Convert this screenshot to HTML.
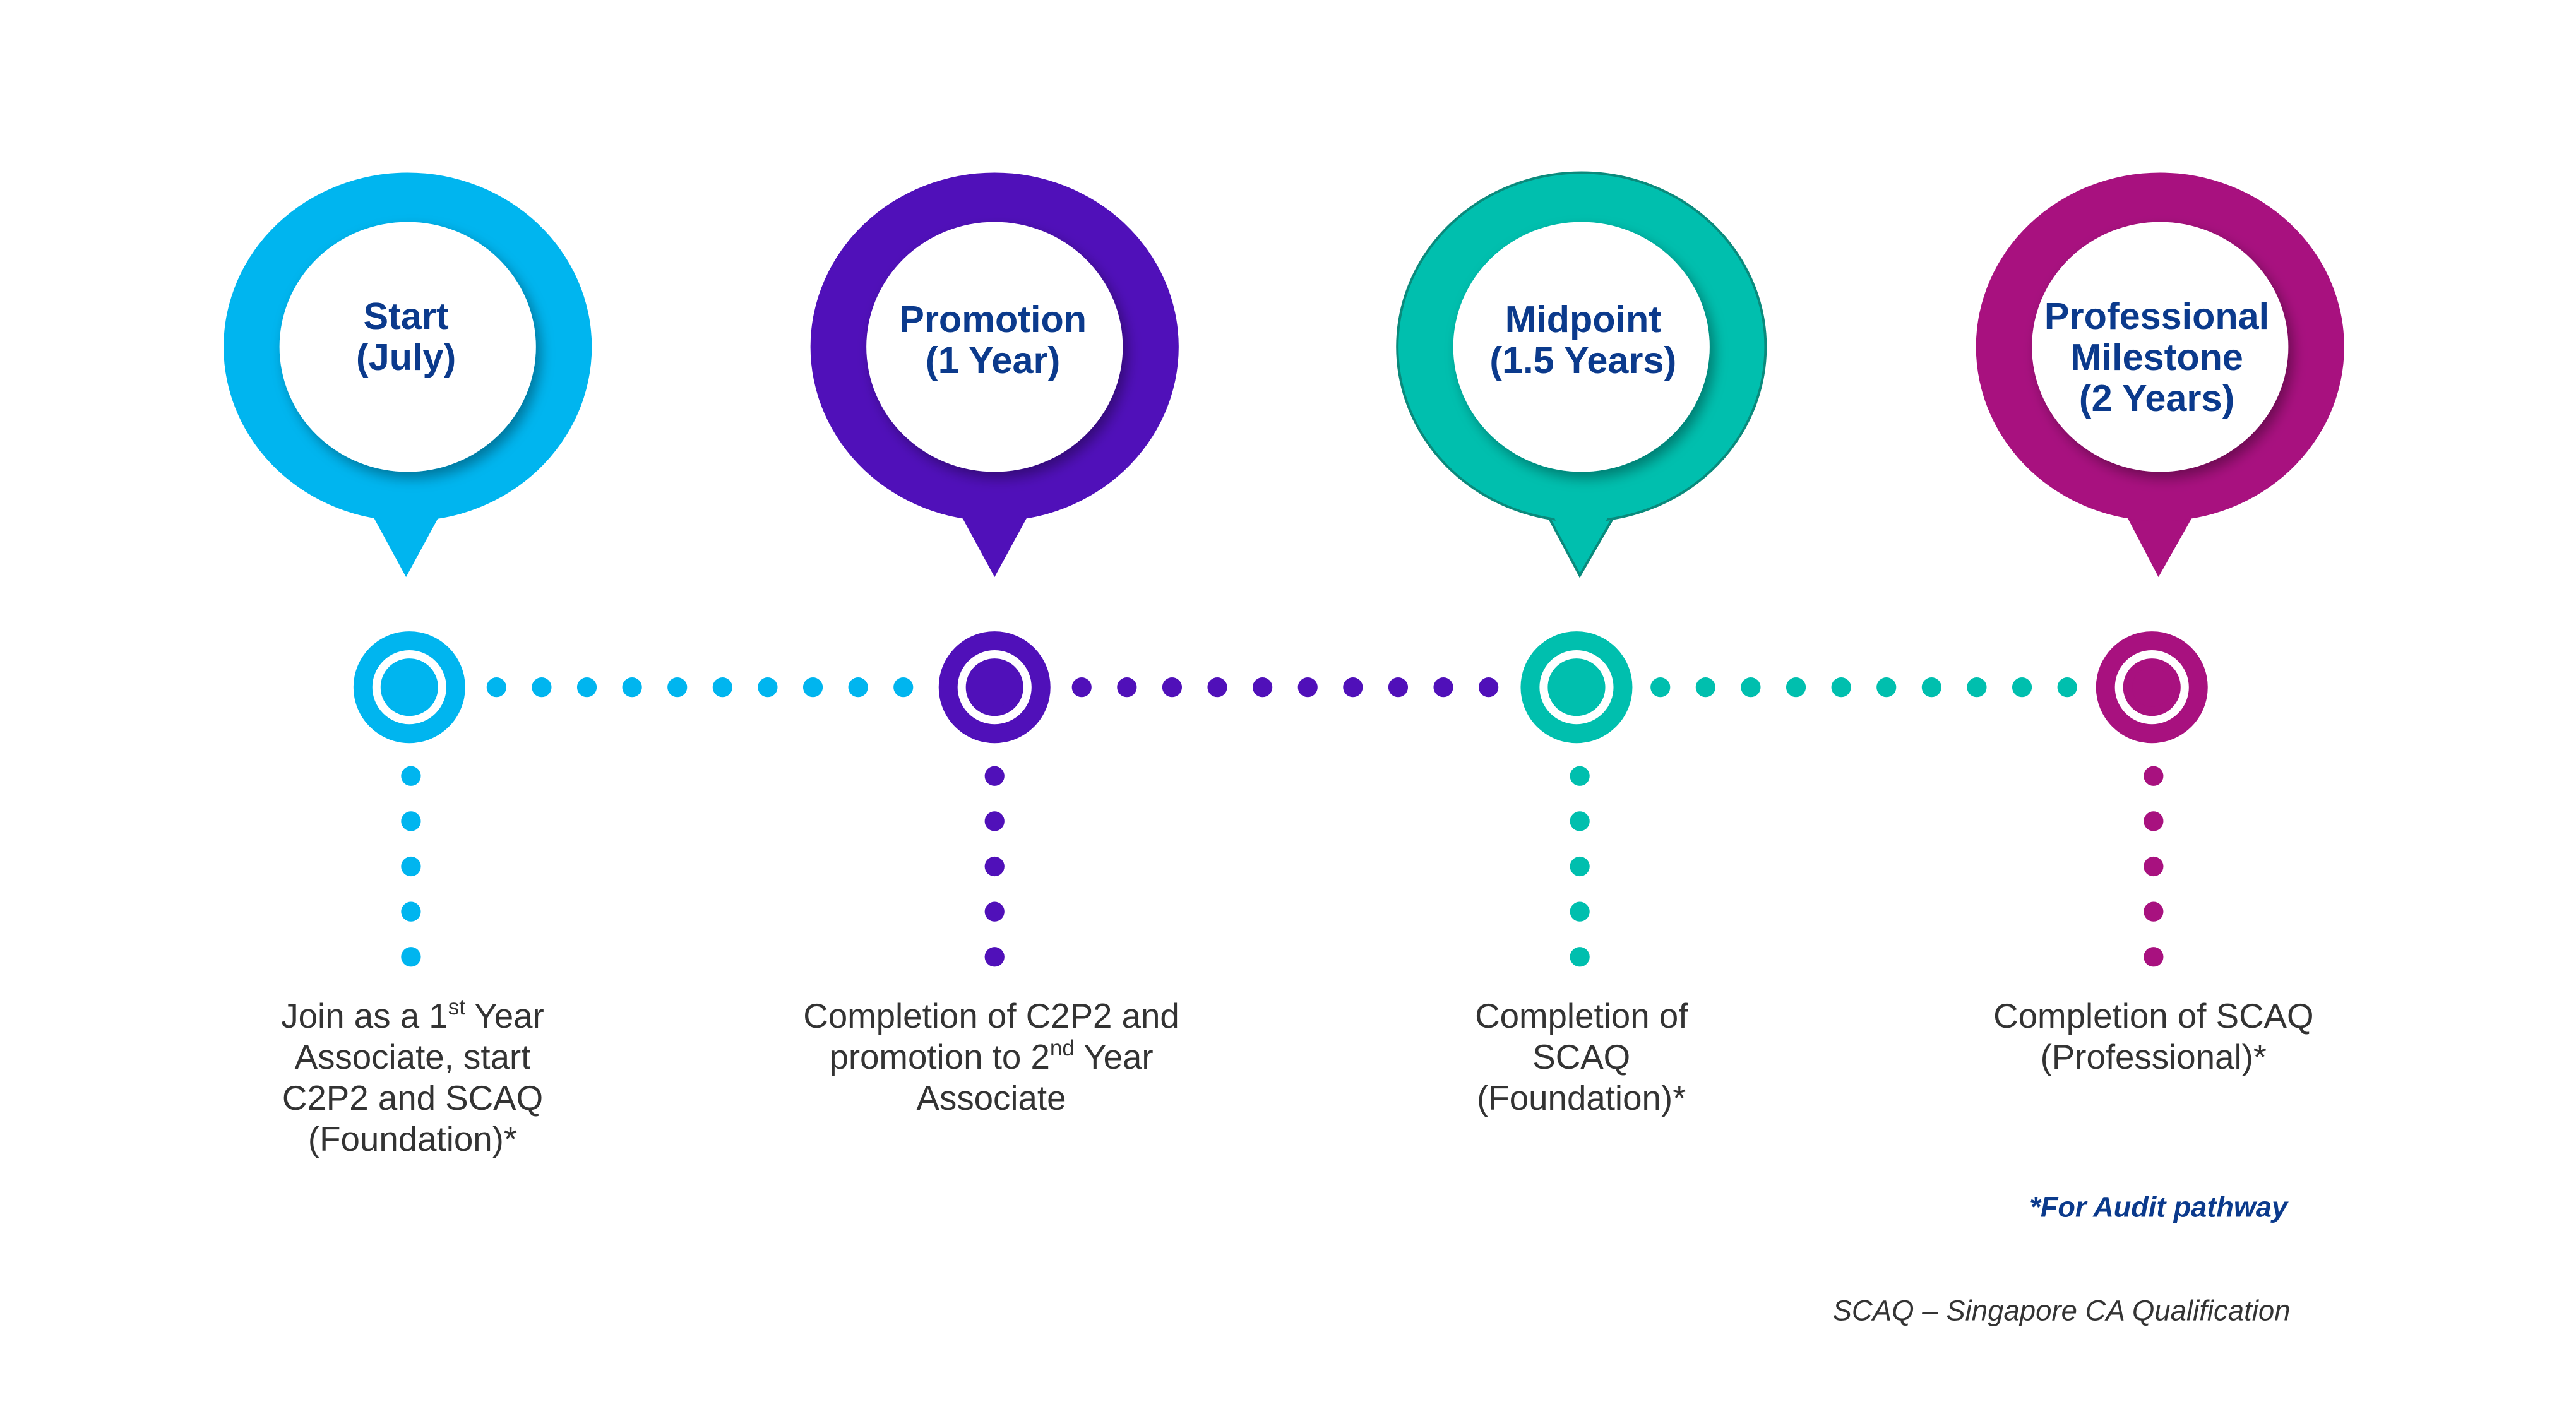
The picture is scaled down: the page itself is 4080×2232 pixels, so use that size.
<!DOCTYPE html>
<html><head><meta charset="utf-8"><style>
html,body{margin:0;padding:0;background:#fff;}
svg{display:block;}
text{font-family:"Liberation Sans",Arial,sans-serif;}
</style></head><body>
<svg width="4080" height="2232" viewBox="0 0 1567 857" preserveAspectRatio="none" xmlns="http://www.w3.org/2000/svg">
<defs>
<filter id="sh" x="-30%" y="-30%" width="160%" height="160%">
<feDropShadow dx="3" dy="4" stdDeviation="4" flood-color="#000" flood-opacity="0.35"/>
</filter>
</defs>
<rect width="1567" height="857" fill="#fff"/>

<g>
<polygon points="222,305 272,305 247,351" fill="#00b5ef"/>
<ellipse cx="248" cy="211" rx="112" ry="106" fill="#00b5ef"/>
<ellipse cx="248" cy="211" rx="78" ry="76" fill="#fff" filter="url(#sh)"/>
<text x="247" y="200" text-anchor="middle" font-size="22.8" font-weight="bold" fill="#0b3a8c">Start</text>
<text x="247" y="225" text-anchor="middle" font-size="22.8" font-weight="bold" fill="#0b3a8c">(July)</text>
</g>
<g>
<polygon points="580,305 630,305 605,351" fill="#5010b9"/>
<ellipse cx="605" cy="211" rx="112" ry="106" fill="#5010b9"/>
<ellipse cx="605" cy="211" rx="78" ry="76" fill="#fff" filter="url(#sh)"/>
<text x="604" y="202" text-anchor="middle" font-size="22.8" font-weight="bold" fill="#0b3a8c">Promotion</text>
<text x="604" y="227" text-anchor="middle" font-size="22.8" font-weight="bold" fill="#0b3a8c">(1 Year)</text>
</g>
<g>
<polygon points="937,305 987,305 961,350" fill="#00bfae" stroke="#0a8a7c" stroke-width="1.5"/>
<ellipse cx="962" cy="211" rx="112" ry="106" fill="#00bfae" stroke="#0a8a7c" stroke-width="1.5"/>
<polygon points="938,300 986,300 961,346" fill="#00bfae"/>
<ellipse cx="962" cy="211" rx="78" ry="76" fill="#fff" filter="url(#sh)"/>
<text x="963" y="202" text-anchor="middle" font-size="22.8" font-weight="bold" fill="#0b3a8c">Midpoint</text>
<text x="963" y="227" text-anchor="middle" font-size="22.8" font-weight="bold" fill="#0b3a8c">(1.5 Years)</text>
</g>
<g>
<polygon points="1289,305 1339,305 1313,351" fill="#a8117f"/>
<ellipse cx="1314" cy="211" rx="112" ry="106" fill="#a8117f"/>
<ellipse cx="1314" cy="211" rx="78" ry="76" fill="#fff" filter="url(#sh)"/>
<text x="1312" y="200" text-anchor="middle" font-size="22.8" font-weight="bold" fill="#0b3a8c">Professional</text>
<text x="1312" y="225" text-anchor="middle" font-size="22.8" font-weight="bold" fill="#0b3a8c">Milestone</text>
<text x="1312" y="250" text-anchor="middle" font-size="22.8" font-weight="bold" fill="#0b3a8c">(2 Years)</text>
</g>

<g>
<circle cx="249" cy="418" r="34" fill="#00b5ef"/><circle cx="249" cy="418" r="20" fill="none" stroke="#fff" stroke-width="5"/><circle cx="249" cy="418" r="12" fill="#00b5ef"/>
<circle cx="605" cy="418" r="34" fill="#5010b9"/><circle cx="605" cy="418" r="20" fill="none" stroke="#fff" stroke-width="5"/><circle cx="605" cy="418" r="12" fill="#5010b9"/>
<circle cx="959" cy="418" r="34" fill="#00bfae"/><circle cx="959" cy="418" r="20" fill="none" stroke="#fff" stroke-width="5"/><circle cx="959" cy="418" r="12" fill="#00bfae"/>
<circle cx="1309" cy="418" r="34" fill="#a8117f"/><circle cx="1309" cy="418" r="20" fill="none" stroke="#fff" stroke-width="5"/><circle cx="1309" cy="418" r="12" fill="#a8117f"/>
</g>

<g fill="#00b5ef">
<circle cx="302" cy="418" r="6"/><circle cx="329.5" cy="418" r="6"/><circle cx="357" cy="418" r="6"/><circle cx="384.5" cy="418" r="6"/><circle cx="412" cy="418" r="6"/><circle cx="439.5" cy="418" r="6"/><circle cx="467" cy="418" r="6"/><circle cx="494.5" cy="418" r="6"/><circle cx="522" cy="418" r="6"/><circle cx="549.5" cy="418" r="6"/>
</g>
<g fill="#5010b9">
<circle cx="658" cy="418" r="6"/><circle cx="685.5" cy="418" r="6"/><circle cx="713" cy="418" r="6"/><circle cx="740.5" cy="418" r="6"/><circle cx="768" cy="418" r="6"/><circle cx="795.5" cy="418" r="6"/><circle cx="823" cy="418" r="6"/><circle cx="850.5" cy="418" r="6"/><circle cx="878" cy="418" r="6"/><circle cx="905.5" cy="418" r="6"/>
</g>
<g fill="#00bfae">
<circle cx="1010" cy="418" r="6"/><circle cx="1037.5" cy="418" r="6"/><circle cx="1065" cy="418" r="6"/><circle cx="1092.5" cy="418" r="6"/><circle cx="1120" cy="418" r="6"/><circle cx="1147.5" cy="418" r="6"/><circle cx="1175" cy="418" r="6"/><circle cx="1202.5" cy="418" r="6"/><circle cx="1230" cy="418" r="6"/><circle cx="1257.5" cy="418" r="6"/>
</g>

<g fill="#00b5ef"><circle cx="250" cy="472" r="6"/><circle cx="250" cy="499.5" r="6"/><circle cx="250" cy="527" r="6"/><circle cx="250" cy="554.5" r="6"/><circle cx="250" cy="582" r="6"/></g>
<g fill="#5010b9"><circle cx="605" cy="472" r="6"/><circle cx="605" cy="499.5" r="6"/><circle cx="605" cy="527" r="6"/><circle cx="605" cy="554.5" r="6"/><circle cx="605" cy="582" r="6"/></g>
<g fill="#00bfae"><circle cx="961" cy="472" r="6"/><circle cx="961" cy="499.5" r="6"/><circle cx="961" cy="527" r="6"/><circle cx="961" cy="554.5" r="6"/><circle cx="961" cy="582" r="6"/></g>
<g fill="#a8117f"><circle cx="1310" cy="472" r="6"/><circle cx="1310" cy="499.5" r="6"/><circle cx="1310" cy="527" r="6"/><circle cx="1310" cy="554.5" r="6"/><circle cx="1310" cy="582" r="6"/></g>

<g font-size="21" fill="#333" text-anchor="middle">
<text x="251" y="625">Join as a 1<tspan font-size="13.5" dy="-8">st</tspan><tspan dy="8"> Year</tspan></text>
<text x="251" y="650">Associate, start</text>
<text x="251" y="675">C2P2 and SCAQ</text>
<text x="251" y="700">(Foundation)*</text>

<text x="603" y="625">Completion of C2P2 and</text>
<text x="603" y="650">promotion to 2<tspan font-size="13.5" dy="-8">nd</tspan><tspan dy="8"> Year</tspan></text>
<text x="603" y="675">Associate</text>

<text x="962" y="625">Completion of</text>
<text x="962" y="650">SCAQ</text>
<text x="962" y="675">(Foundation)*</text>

<text x="1310" y="625">Completion of SCAQ</text>
<text x="1310" y="650">(Professional)*</text>
</g>

<text x="1313" y="740" text-anchor="middle" font-size="17.3" font-weight="bold" font-style="italic" fill="#0b3a8c">*For Audit pathway</text>
<text x="1254" y="803" text-anchor="middle" font-size="17.5" font-style="italic" fill="#333">SCAQ – Singapore CA Qualification</text>
</svg>
</body></html>
